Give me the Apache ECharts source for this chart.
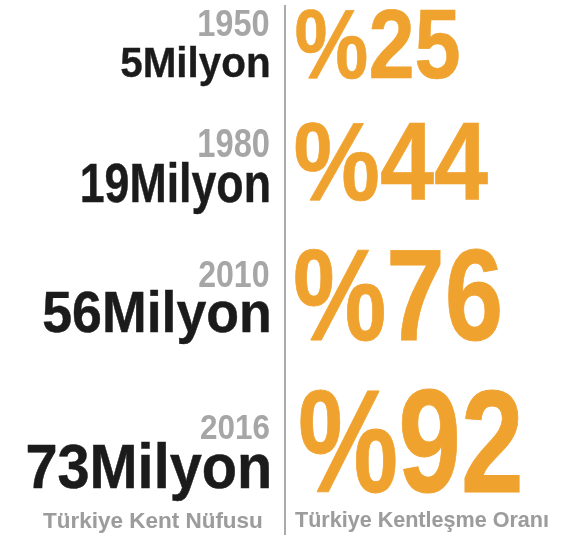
<!DOCTYPE html>
<html>
<head>
<meta charset="utf-8">
<script src="https://cdn.jsdelivr.net/npm/echarts@6/dist/echarts.min.js"></script>
<style>
    html, body { margin: 0; padding: 0; background: #fff; }
    #chart { width: 569px; height: 539px; }
</style>
</head>
<body>
<div id="chart"></div>
<script>
// data
var years = ['1950', '1980', '2010', '2016'];
var population = [5, 19, 56, 73];      // milyon
var urbanRate = [25, 44, 76, 92];      // %
var footLeft = 'Türkiye Kent Nüfusu';
var footRight = 'Türkiye Kentleşme Oranı';

// layout: [baseline, cap height, ink width]
var yearBox = [[36, 26, 70], [157, 28, 70], [287, 26, 70], [439, 24, 68]];
var popBox = [[77, 30, 148], [202, 39, 187], [332, 41, 226], [488, 45, 242]];
var rateBox = [[78, 69, 163], [200, 78, 193], [340, 92, 205], [492, 103, 220]];
var rateLeft = [296, 295, 295, 300];
var leftEdge = 269;

var FAMILY = '"Liberation Sans Narrow", "Liberation Sans", Arial, sans-serif';
var ctx = document.createElement('canvas').getContext('2d');

function fontOf(size) {
    return 'bold ' + size.toFixed(2) + 'px ' + FAMILY;
}

// build a text element whose ink fits the box, right or left anchored
// heavy = extra stroke (fraction of font size) to get a blacker weight
function fitText(text, anchor, side, box, color, heavy) {
    ctx.font = fontOf(100);
    ctx.textBaseline = 'alphabetic';
    var capRatio = ctx.measureText('H').actualBoundingBoxAscent / 100;
    var lw = box[1] / capRatio * heavy;
    var fs = (box[1] - lw) / capRatio;
    ctx.font = fontOf(fs);
    var m = ctx.measureText(text);
    var inkL = m.actualBoundingBoxLeft, inkR = m.actualBoundingBoxRight;
    var s = (box[2] - lw * 0.85) / (inkL + inkR);
    ctx.textBaseline = 'middle';
    var d = ctx.measureText('H').actualBoundingBoxDescent;
    var x = side === 'right' ? anchor - (inkR + lw / 2) * s : anchor + (inkL + lw / 2) * s;
    var style = {
        text: text,
        font: fontOf(fs),
        fill: color,
        align: 'left',
        textAlign: 'left',
        verticalAlign: 'middle',
        textVerticalAlign: 'middle'
    };
    if (lw > 0) {
        style.stroke = color;
        style.lineWidth = lw;
        style.lineJoin = 'round';
    }
    return {
        type: 'text',
        x: x,
        y: box[0] - lw / 2 - d,
        scaleX: s,
        style: style
    };
}

var elements = [];
elements.push({
    type: 'line',
    shape: { x1: 285, y1: 5, x2: 285, y2: 535 },
    style: { stroke: '#ababab', lineWidth: 2 }
});
for (var i = 0; i < years.length; i++) {
    elements.push(fitText(years[i], leftEdge, 'right', yearBox[i], '#a6a6a6', 0));
    elements.push(fitText(population[i] + 'Milyon', leftEdge, 'right', popBox[i], '#1b1b1b', 0.008));
    elements.push(fitText('%' + urbanRate[i], rateLeft[i], 'left', rateBox[i], '#f0a22e', 0.006));
}
elements.push(fitText(footLeft, 262, 'right', [528, 16, 219], '#9c9c9c', 0.004));
elements.push(fitText(footRight, 295, 'left', [527, 15, 253], '#9c9c9c', 0.004));

var myChart = echarts.init(document.getElementById('chart'));
myChart.setOption({
    backgroundColor: '#ffffff',
    animation: false,
    graphic: { elements: elements }
});
</script>
</body>
</html>
